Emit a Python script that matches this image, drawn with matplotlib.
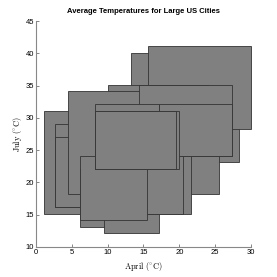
import matplotlib
matplotlib.use('Agg')
import matplotlib.pyplot as plt
from matplotlib.patches import Rectangle

# one rectangle per city, listed back to front
# x: April low..high, y: July low..high (deg C)
april_low = [13.3, 15.6, 10.0, 1.1, 2.7, 2.7, 4.4, 6.1, 9.5, 12.0, 11.0, 6.1, 14.4, 8.3, 17.2, 8.3, 8.3]
april_high = [28.4, 30.0, 24.0, 16.7, 14.0, 13.0, 25.6, 14.0, 17.2, 21.7, 20.5, 15.5, 27.3, 17.2, 27.3, 20.0, 19.5]
july_low = [23.1, 28.2, 23.0, 15.1, 16.2, 16.2, 18.2, 13.1, 12.1, 15.1, 15.1, 14.1, 24.1, 22.1, 24.1, 22.1, 22.1]
july_high = [40.1, 41.1, 35.1, 31.1, 29.1, 27.0, 34.1, 22.0, 20.0, 28.0, 27.0, 24.1, 35.1, 32.1, 32.1, 31.1, 31.1]

plt.rcParams['mathtext.fontset'] = 'cm'
plt.rcParams['font.family'] = ['Liberation Sans', 'DejaVu Sans']

fig = plt.figure(figsize=(2.77, 2.77), dpi=100)
ax = fig.add_axes([0.130, 0.109, 0.776, 0.815])

for x0, x1, y0, y1 in zip(april_low, april_high, july_low, july_high):
    ax.add_patch(Rectangle((x0, y0), x1 - x0, y1 - y0, facecolor='#808080',
                           edgecolor='#333333', lw=0.6, clip_on=False))

ax.set_xlim(0, 30)
ax.set_ylim(10, 45)
ax.set_xticks(range(0, 31, 5))
ax.set_yticks(range(10, 46, 5))
for s in ['top', 'right']:
    ax.spines[s].set_visible(False)
for s in ['left', 'bottom']:
    ax.spines[s].set_color('#888888')
    ax.spines[s].set_linewidth(0.8)
ax.tick_params(direction='in', length=2, width=0.5, color='#555555', labelsize=5.5, pad=1.5)

ax.set_title('Average Temperatures for Large US Cities', fontsize=5.5, fontweight='bold', pad=6)
ax.set_xlabel(r'$\mathrm{April\ (^{\circ}C)}$', fontsize=6, labelpad=3)
ax.set_ylabel(r'$\mathrm{July\ (^{\circ}C)}$', fontsize=6, labelpad=1)

fig.savefig('out.png', dpi=100)
